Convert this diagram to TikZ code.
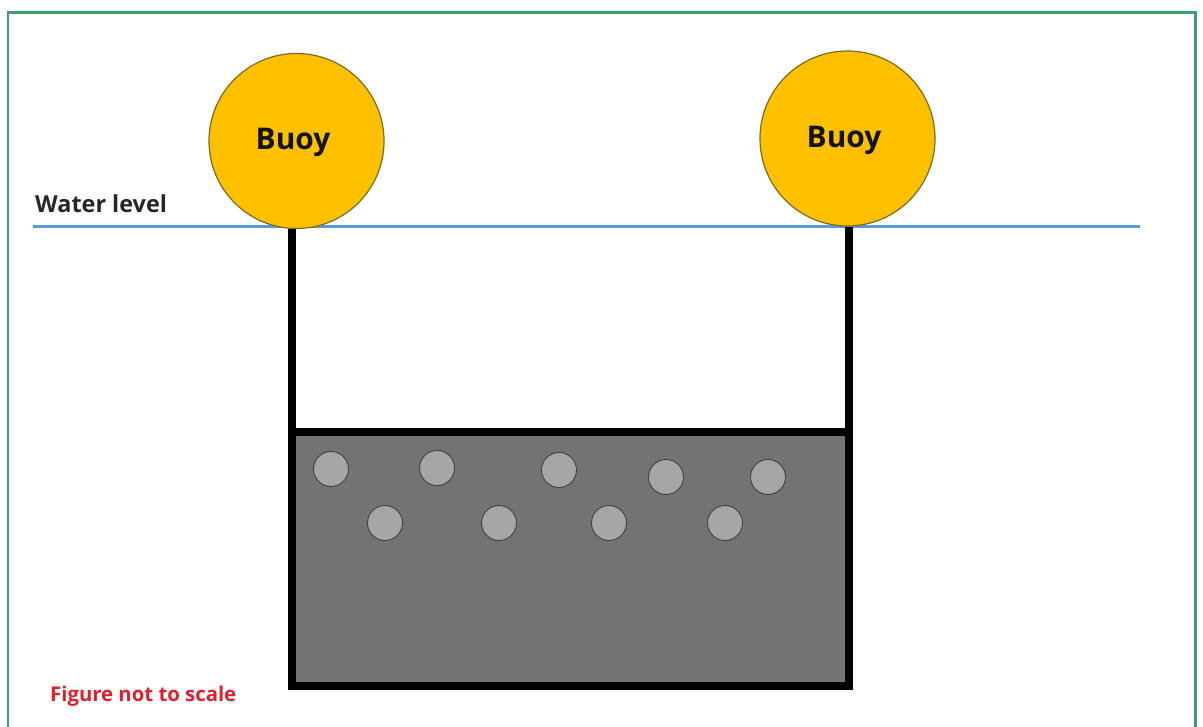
\documentclass[tikz,border=0pt]{standalone}
\usepackage{fontspec}
\setmainfont{Open Sans}
\definecolor{framegreen}{HTML}{3D9E6E}
\definecolor{waterblue}{HTML}{5B9BD5}
\definecolor{buoyfill}{HTML}{FFC000}
\definecolor{buoyline}{HTML}{7F6A1A}
\definecolor{tankfill}{HTML}{737373}
\definecolor{pebblefill}{HTML}{A6A6A6}
\definecolor{notered}{HTML}{E0202F}
\tikzset{
  x=1bp,y=-1bp,
  buoy/.style={circle,draw=buoyline,line width=1.2bp,fill=buoyfill,minimum size=175bp,inner sep=0pt},
  buoytext/.style={inner sep=0pt,font=\fontsize{30}{30}\selectfont\bfseries,text=black!92},
  pebble/.style={circle,draw=black!75,line width=0.9bp,fill=pebblefill,minimum size=35bp,inner sep=0pt},
  rope/.style={draw=black,line width=8bp},
  tank/.style={draw=black,line width=8bp,fill=tankfill,line join=miter},
  water/.style={draw=waterblue,line width=3.4bp},
  frameline/.style={draw=framegreen,line width=2.5bp},
  label/.style={inner sep=0pt,anchor=west}
}
\begin{document}
\begin{tikzpicture}
\useasboundingbox (0,0) rectangle (1203,727);
\fill[white] (0,0) rectangle (1203,727);
\coordinate (fbl) at (8,727);
\coordinate (ftl) at (8,12.5);
\coordinate (ftr) at (1195.5,12.5);
\coordinate (fbr) at (1195.5,727);
\draw[frameline] (fbl) -- (ftl) -- (ftr) -- (fbr);
\coordinate (wl) at (33,226.5);
\coordinate (wr) at (1140,226.5);
\draw[water] (wl) -- (wr);
\coordinate (tl) at (291.5,432);
\coordinate (tr) at (849,432);
\coordinate (bl) at (291.5,686);
\coordinate (br) at (849,686);
\draw[tank] (tl) -- (tr) -- (br) -- (bl) -- cycle;
\node[buoy] (b1) at (296.5,141) {};
\node[buoy] (b2) at (847.5,138.5) {};
\node[buoytext] (t1) at (293,142.5) {Buoy};
\node[buoytext] (t2) at (844,140.5) {Buoy};
\coordinate (r1) at (tl |- b1.south);
\coordinate (r2) at (tr |- b2.south);
\draw[rope] (r1) -- (tl);
\draw[rope] (r2) -- (tr);
\node[pebble] (p1) at (331,469) {};
\node[pebble] (p2) at (437,468) {};
\node[pebble] (p3) at (559,470) {};
\node[pebble] (p4) at (666,477) {};
\node[pebble] (p5) at (768,477) {};
\node[pebble] (p6) at (385,523) {};
\node[pebble] (p7) at (499,523) {};
\node[pebble] (p8) at (609,523) {};
\node[pebble] (p9) at (725,523) {};
\node[label,font=\fontsize{23.5}{24}\selectfont\bfseries,text=black!85] (wtxt) at (35,203.5) {Water level};
\node[label,font=\fontsize{20.4}{21}\selectfont\bfseries,text=notered] (ntxt) at (50,696.5) {Figure not to scale};
\end{tikzpicture}
\end{document}
